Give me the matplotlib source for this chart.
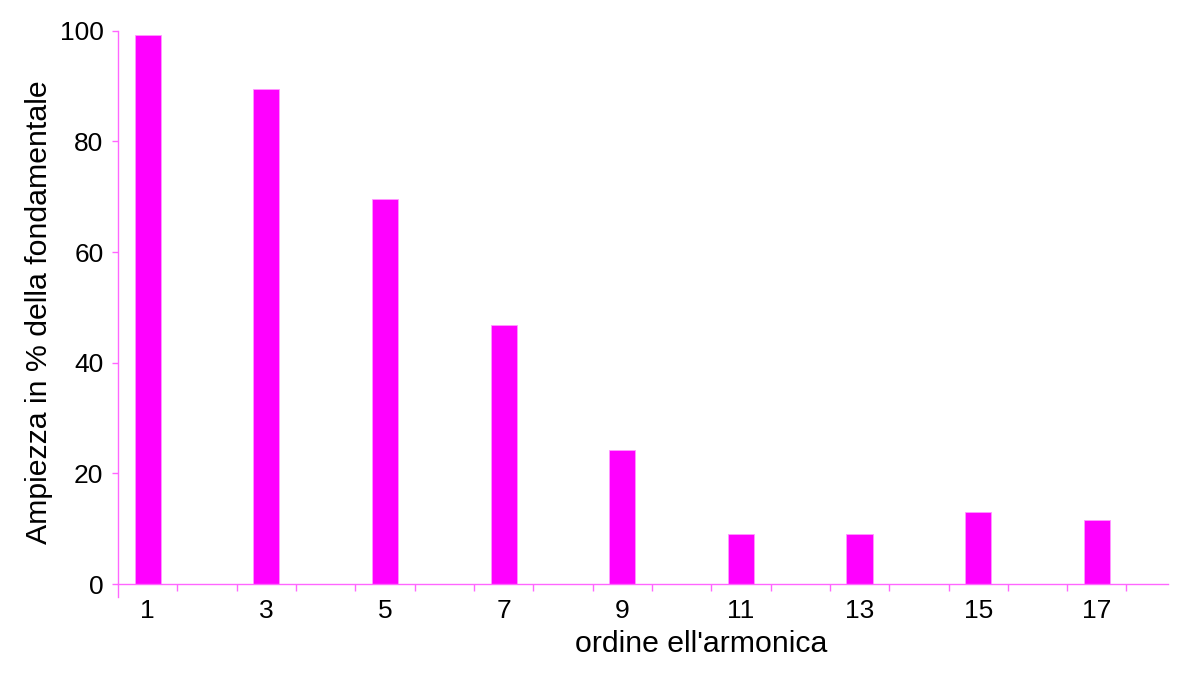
import matplotlib
matplotlib.use("Agg")
import matplotlib.pyplot as plt
import numpy as np

harmonics = [1, 3, 5, 7, 9, 11, 13, 15, 17]
amplitudes = [99.3, 89.5, 69.5, 46.8, 24.3, 9.0, 9.0, 13.0, 11.6]
yticks = [0, 20, 40, 60, 80, 100]
xlabel = "ordine ell'armonica"
ylabel = "Ampiezza in % della fondamentale"

plt.rcParams['font.family'] = ['Liberation Sans', 'DejaVu Sans']

fig = plt.figure(figsize=(12, 6.82), dpi=100)
ax = fig.add_axes([118/1200, (682-584)/682, (1168-118)/1200, (584-30.7)/682])

ax.bar(harmonics, amplitudes, width=0.44, color='#ff00ff', edgecolor='#ff99ff', linewidth=0.6)

ax.set_xlim(0.5, 18.2)
ax.set_ylim(0, 100)

axis_col = '#ff66ff'
for s in ['top', 'right']:
    ax.spines[s].set_visible(False)
ax.spines['left'].set_color(axis_col)
ax.spines['bottom'].set_color(axis_col)
ax.spines['left'].set_linewidth(1.0)
ax.spines['bottom'].set_linewidth(1.0)
ax.spines['left'].set_bounds(-2.4, 100)
ax.spines['left'].set_clip_on(False)

ax.set_yticks(yticks)
ax.set_yticklabels([str(v) for v in yticks], fontsize=19)
ax.tick_params(axis='y', direction='out', length=4.5, width=1.0, color=axis_col, pad=6)

ax.set_xticks(harmonics)
ax.set_xticklabels([str(h) for h in harmonics], fontsize=19)
ax.tick_params(axis='x', which='major', length=0, pad=11)
ax.set_xticks(np.arange(1.5, 18, 1.0), minor=True)
ax.tick_params(axis='x', which='minor', direction='out', length=5, width=1.0, color=axis_col)

ax.set_xlabel(xlabel, fontsize=21.8)
ax.xaxis.set_label_coords(0.555, -0.083)
ax.xaxis.label.set_va('top')
ax.set_ylabel(ylabel, fontsize=21.8, labelpad=5)
ax.yaxis.label.set_y(0.492)

fig.savefig('out.png', dpi=100)
